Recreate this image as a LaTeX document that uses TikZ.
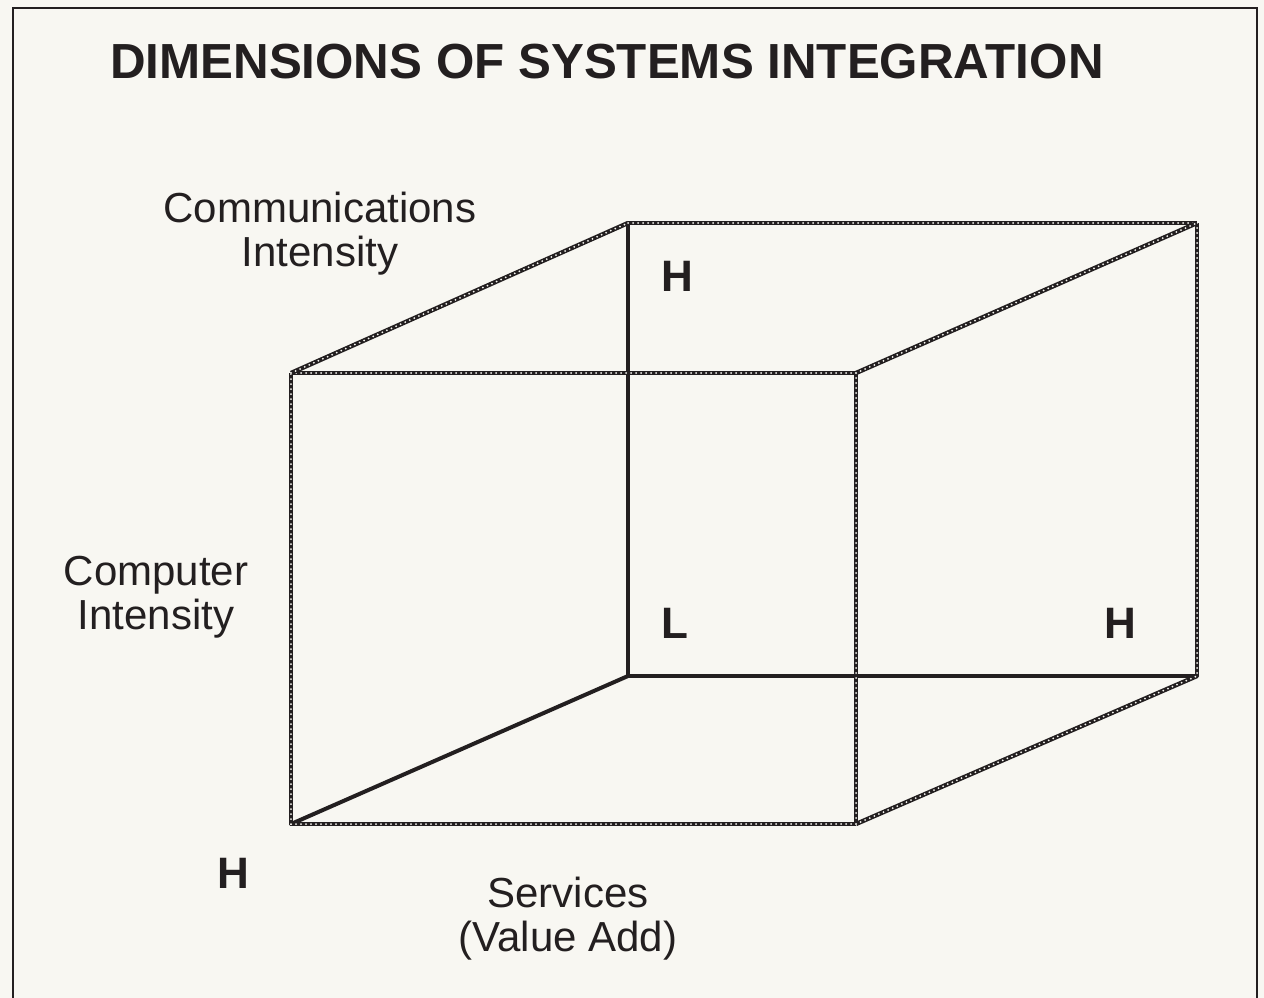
\documentclass[tikz,border=0pt]{standalone}
\usepackage{fontspec}
\setmainfont{Liberation Sans}
\definecolor{paper}{HTML}{F8F7F2}
\definecolor{ink}{HTML}{231F20}
\begin{document}
\begin{tikzpicture}[x=1pt,y=-1pt,
  chain/.style={draw=ink, line width=4.4pt,
    postaction={draw=paper, line width=2pt, dash pattern=on 0pt off 5pt, line cap=round}},
  solidedge/.style={draw=ink, line width=4pt, line cap=round},
  lbl/.style={inner sep=0pt, align=center, font=\fontsize{42}{44}\selectfont, text=ink},
  endmark/.style={inner sep=0pt, font=\fontsize{44}{50}\selectfont\bfseries, text=ink},
  frame/.style={draw=ink, line width=2pt}]
\fill[paper] (0,0) rectangle (1264,998);
\useasboundingbox (0,0) rectangle (1264,998);
% frame
\draw[frame] (13,1010) -- (13,8) -- (1257,8) -- (1257,1010);
% title
\node[inner sep=0pt, anchor=base west, font=\fontsize{49.3}{60}\selectfont\bfseries, text=ink] (title) at (110,78) {DIMENSIONS OF SYSTEMS INTEGRATION};
% cube corners
\coordinate (F1) at (291,373);
\coordinate (F2) at (856,373);
\coordinate (F3) at (856,824);
\coordinate (F4) at (291,824);
\coordinate (B1) at (628,223);
\coordinate (B2) at (1197,223);
\coordinate (B3) at (1197,676);
\coordinate (B4) at (628,676);
% solid axes
\draw[solidedge] (B1) -- (B4);
\draw[solidedge] (B4) -- (B3);
\draw[solidedge] (B4) -- (F4);
% chain edges
\path[chain] (F1) -- (F2);
\path[chain] (F2) -- (F3);
\path[chain] (F3) -- (F4);
\path[chain] (F4) -- (F1);
\path[chain] (F1) -- (B1);
\path[chain] (B1) -- (B2);
\path[chain] (B2) -- (B3);
\path[chain] (F2) -- (B2);
\path[chain] (F3) -- (B3);
% labels
\node[lbl, anchor=north] (comm) at (320,192) {Communications\\Intensity};
\node[lbl, anchor=north] (comp) at (156,556) {Computer\\Intensity};
\node[lbl, anchor=north] (serv) at (568,877) {Services\\(Value Add)};
\node[endmark] (hcomm) at (677,276) {H};
\node[endmark] (lorig) at (675,623) {L};
\node[endmark] (hserv) at (1120,623) {H};
\node[endmark] (hcomp) at (233,873) {H};
\end{tikzpicture}
\end{document}
